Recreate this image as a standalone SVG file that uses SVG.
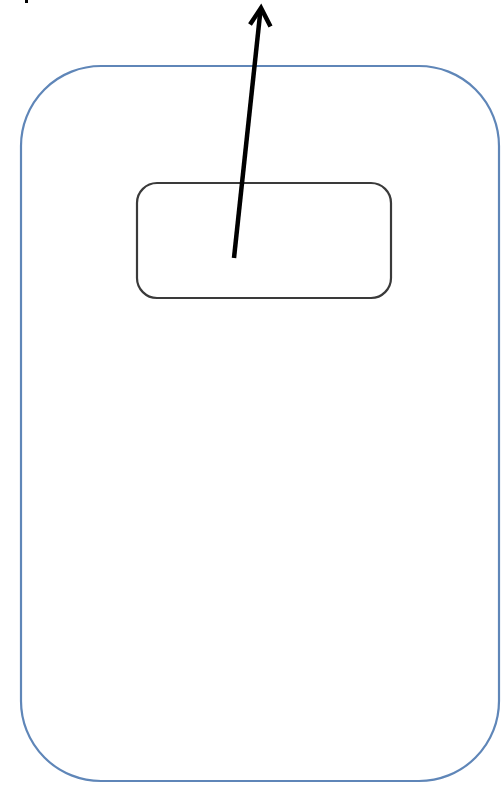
<svg xmlns="http://www.w3.org/2000/svg" width="501" height="785" viewBox="0 0 501 785">
<style>
.outer{fill:#ffffff;stroke:#5f86b8;stroke-width:2.2}
.inner{fill:#ffffff;stroke:#3a3a3a;stroke-width:2.2}
.conn{fill:none;stroke:#000;stroke-width:4.5;stroke-linecap:butt}
</style>
<rect x="0" y="0" width="501" height="785" fill="#ffffff"/>
<rect x="25" y="0" width="3" height="3" fill="#000"/>
<g id="outer-node">
<rect class="outer" x="21" y="66" width="478" height="715" rx="80" ry="80"/>
</g>
<g id="inner-node">
<rect class="inner" x="137" y="183" width="254" height="115" rx="20" ry="20"/>
</g>
<g id="connectors">
<line class="conn" x1="234" y1="258" x2="260.5" y2="10"/>
<polyline class="conn" points="250,24.5 261,8 270.5,26.5" stroke-linejoin="miter"/>
</g>
</svg>
